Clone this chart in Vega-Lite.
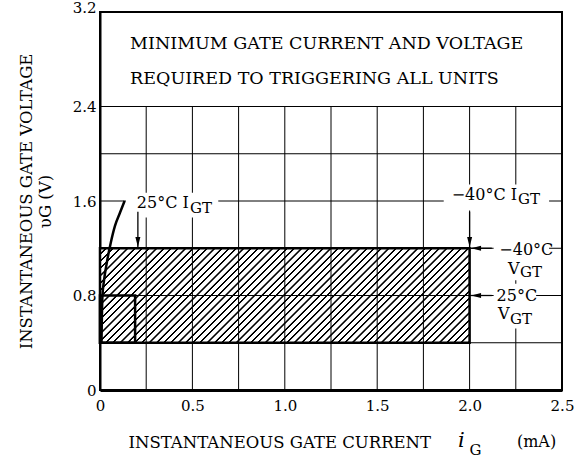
{
 "$schema": "https://vega.github.io/schema/vega-lite/v6.json",
 "width": 462,
 "height": 378,
 "autosize": {"type": "none"},
 "padding": {"left": 100, "top": 12, "right": 19, "bottom": 69},
 "background": "white",
 "config": {
  "font": "DejaVu Serif",
  "view": {"stroke": "black", "strokeWidth": 2},
  "axis": {"grid": false, "ticks": false, "domainColor": "black", "labelColor": "black", "titleColor": "black", "labelFont": "DejaVu Serif", "titleFont": "DejaVu Serif", "labelFontSize": 15, "titleFontSize": 16.5, "titleFontWeight": "normal", "labelFlush": false, "labelOverlap": false}
 },
 "datasets": {
  "regions": [
   {"temp": "−40°C", "i_min": 0, "i_max": 2.0, "v_min": 0.4, "v_max": 1.2},
   {"temp": "25°C", "i_min": 0, "i_max": 0.19, "v_min": 0.4, "v_max": 0.8}
  ],
  "vgrid": [{"i": 0.25}, {"i": 0.5}, {"i": 0.75}, {"i": 1.0}, {"i": 1.25}, {"i": 1.5}, {"i": 1.75}, {"i": 2.0}, {"i": 2.25}],
  "hgrid": [{"v": 0.4}, {"v": 0.8}, {"v": 1.2}, {"v": 1.6}, {"v": 2.0}, {"v": 2.4}],
  "masks": [
   {"i1": 0.14, "i2": 0.64, "v1": 1.46, "v2": 1.67},
   {"i1": 1.86, "i2": 2.43, "v1": 1.52, "v2": 1.74},
   {"i1": 2.13, "i2": 2.43, "v1": 0.93, "v2": 1.53},
   {"i1": 2.13, "i2": 2.36, "v1": 0.52, "v2": 0.9}
  ],
  "curve": [
   {"i": 0.008, "v": 0.4}, {"i": 0.01, "v": 0.6}, {"i": 0.013, "v": 0.79}, {"i": 0.022, "v": 0.93}, {"i": 0.036, "v": 1.07}, {"i": 0.058, "v": 1.245}, {"i": 0.081, "v": 1.39}, {"i": 0.108, "v": 1.5}, {"i": 0.133, "v": 1.6}
  ],
  "arrows": [
   {"dir": "down", "i1": 0.205, "v1": 1.51, "i2": 0.205, "v2": 1.21},
   {"dir": "down", "i1": 2.0, "v1": 1.51, "i2": 2.0, "v2": 1.21},
   {"dir": "left", "i1": 2.12, "v1": 1.2, "i2": 2.008, "v2": 1.2},
   {"dir": "left", "i1": 2.12, "v1": 0.8, "i2": 2.008, "v2": 0.8}
  ],
  "titles": [
   {"text": "MINIMUM GATE CURRENT AND VOLTAGE", "i": 0.163, "v": 2.93},
   {"text": "REQUIRED TO TRIGGERING ALL UNITS", "i": 0.163, "v": 2.63}
  ],
  "notes": [
   {"text": "25°C I", "i": 0.199, "v": 1.583},
   {"text": "−40°C I", "i": 1.903, "v": 1.651},
   {"text": "−40°C", "i": 2.161, "v": 1.185},
   {"text": "V", "i": 2.208, "v": 1.025},
   {"text": "25°C", "i": 2.146, "v": 0.8},
   {"text": "V", "i": 2.154, "v": 0.64},
   {"text": "(mA)", "i": 2.256, "v": -0.44}
  ],
  "subs": [
   {"text": "GT", "i": 0.487, "v": 1.54},
   {"text": "GT", "i": 2.262, "v": 1.62},
   {"text": "GT", "i": 2.273, "v": 0.995},
   {"text": "GT", "i": 2.219, "v": 0.605},
   {"text": "G", "i": 2.0, "v": -0.505}
  ],
  "italic": [{"text": "i", "i": 1.937, "v": -0.43}]
 },
 "layer": [
  {
   "data": {"name": "regions"},
   "transform": [{"filter": "datum.i_max > 1"}],
   "mark": {"type": "rect", "stroke": null, "fill": {"gradient": "linear", "x1": 0, "y1": 0, "x2": 1.1786, "y2": 0.3014, "stops": [
{"offset":0,"color":"#fff"},{"offset":0.01,"color":"#fff"},{"offset":0.01125,"color":"#000"},{"offset":0.0146875,"color":"#000"},
{"offset":0.015625,"color":"#fff"},{"offset":0.025625,"color":"#fff"},{"offset":0.026875,"color":"#000"},{"offset":0.0303125,"color":"#000"},
{"offset":0.03125,"color":"#fff"},{"offset":0.04125,"color":"#fff"},{"offset":0.0425,"color":"#000"},{"offset":0.0459375,"color":"#000"},
{"offset":0.046875,"color":"#fff"},{"offset":0.056875,"color":"#fff"},{"offset":0.058125,"color":"#000"},{"offset":0.0615625,"color":"#000"},
{"offset":0.0625,"color":"#fff"},{"offset":0.0725,"color":"#fff"},{"offset":0.07375,"color":"#000"},{"offset":0.0771875,"color":"#000"},
{"offset":0.078125,"color":"#fff"},{"offset":0.088125,"color":"#fff"},{"offset":0.089375,"color":"#000"},{"offset":0.0928125,"color":"#000"},
{"offset":0.09375,"color":"#fff"},{"offset":0.10375,"color":"#fff"},{"offset":0.105,"color":"#000"},{"offset":0.1084375,"color":"#000"},
{"offset":0.109375,"color":"#fff"},{"offset":0.119375,"color":"#fff"},{"offset":0.120625,"color":"#000"},{"offset":0.1240625,"color":"#000"},
{"offset":0.125,"color":"#fff"},{"offset":0.135,"color":"#fff"},{"offset":0.13625,"color":"#000"},{"offset":0.1396875,"color":"#000"},
{"offset":0.140625,"color":"#fff"},{"offset":0.150625,"color":"#fff"},{"offset":0.151875,"color":"#000"},{"offset":0.1553125,"color":"#000"},
{"offset":0.15625,"color":"#fff"},{"offset":0.16625,"color":"#fff"},{"offset":0.1675,"color":"#000"},{"offset":0.1709375,"color":"#000"},
{"offset":0.171875,"color":"#fff"},{"offset":0.181875,"color":"#fff"},{"offset":0.183125,"color":"#000"},{"offset":0.1865625,"color":"#000"},
{"offset":0.1875,"color":"#fff"},{"offset":0.1975,"color":"#fff"},{"offset":0.19875,"color":"#000"},{"offset":0.2021875,"color":"#000"},
{"offset":0.203125,"color":"#fff"},{"offset":0.213125,"color":"#fff"},{"offset":0.214375,"color":"#000"},{"offset":0.2178125,"color":"#000"},
{"offset":0.21875,"color":"#fff"},{"offset":0.22875,"color":"#fff"},{"offset":0.23,"color":"#000"},{"offset":0.2334375,"color":"#000"},
{"offset":0.234375,"color":"#fff"},{"offset":0.244375,"color":"#fff"},{"offset":0.245625,"color":"#000"},{"offset":0.2490625,"color":"#000"},
{"offset":0.25,"color":"#fff"},{"offset":0.26,"color":"#fff"},{"offset":0.26125,"color":"#000"},{"offset":0.2646875,"color":"#000"},
{"offset":0.265625,"color":"#fff"},{"offset":0.275625,"color":"#fff"},{"offset":0.276875,"color":"#000"},{"offset":0.2803125,"color":"#000"},
{"offset":0.28125,"color":"#fff"},{"offset":0.29125,"color":"#fff"},{"offset":0.2925,"color":"#000"},{"offset":0.2959375,"color":"#000"},
{"offset":0.296875,"color":"#fff"},{"offset":0.306875,"color":"#fff"},{"offset":0.308125,"color":"#000"},{"offset":0.3115625,"color":"#000"},
{"offset":0.3125,"color":"#fff"},{"offset":0.3225,"color":"#fff"},{"offset":0.32375,"color":"#000"},{"offset":0.3271875,"color":"#000"},
{"offset":0.328125,"color":"#fff"},{"offset":0.338125,"color":"#fff"},{"offset":0.339375,"color":"#000"},{"offset":0.3428125,"color":"#000"},
{"offset":0.34375,"color":"#fff"},{"offset":0.35375,"color":"#fff"},{"offset":0.355,"color":"#000"},{"offset":0.3584375,"color":"#000"},
{"offset":0.359375,"color":"#fff"},{"offset":0.369375,"color":"#fff"},{"offset":0.370625,"color":"#000"},{"offset":0.3740625,"color":"#000"},
{"offset":0.375,"color":"#fff"},{"offset":0.385,"color":"#fff"},{"offset":0.38625,"color":"#000"},{"offset":0.3896875,"color":"#000"},
{"offset":0.390625,"color":"#fff"},{"offset":0.400625,"color":"#fff"},{"offset":0.401875,"color":"#000"},{"offset":0.4053125,"color":"#000"},
{"offset":0.40625,"color":"#fff"},{"offset":0.41625,"color":"#fff"},{"offset":0.4175,"color":"#000"},{"offset":0.4209375,"color":"#000"},
{"offset":0.421875,"color":"#fff"},{"offset":0.431875,"color":"#fff"},{"offset":0.433125,"color":"#000"},{"offset":0.4365625,"color":"#000"},
{"offset":0.4375,"color":"#fff"},{"offset":0.4475,"color":"#fff"},{"offset":0.44875,"color":"#000"},{"offset":0.4521875,"color":"#000"},
{"offset":0.453125,"color":"#fff"},{"offset":0.463125,"color":"#fff"},{"offset":0.464375,"color":"#000"},{"offset":0.4678125,"color":"#000"},
{"offset":0.46875,"color":"#fff"},{"offset":0.47875,"color":"#fff"},{"offset":0.48,"color":"#000"},{"offset":0.4834375,"color":"#000"},
{"offset":0.484375,"color":"#fff"},{"offset":0.494375,"color":"#fff"},{"offset":0.495625,"color":"#000"},{"offset":0.4990625,"color":"#000"},
{"offset":0.5,"color":"#fff"},{"offset":0.51,"color":"#fff"},{"offset":0.51125,"color":"#000"},{"offset":0.5146875,"color":"#000"},
{"offset":0.515625,"color":"#fff"},{"offset":0.525625,"color":"#fff"},{"offset":0.526875,"color":"#000"},{"offset":0.5303125,"color":"#000"},
{"offset":0.53125,"color":"#fff"},{"offset":0.54125,"color":"#fff"},{"offset":0.5425,"color":"#000"},{"offset":0.5459375,"color":"#000"},
{"offset":0.546875,"color":"#fff"},{"offset":0.556875,"color":"#fff"},{"offset":0.558125,"color":"#000"},{"offset":0.5615625,"color":"#000"},
{"offset":0.5625,"color":"#fff"},{"offset":0.5725,"color":"#fff"},{"offset":0.57375,"color":"#000"},{"offset":0.5771875,"color":"#000"},
{"offset":0.578125,"color":"#fff"},{"offset":0.588125,"color":"#fff"},{"offset":0.589375,"color":"#000"},{"offset":0.5928125,"color":"#000"},
{"offset":0.59375,"color":"#fff"},{"offset":0.60375,"color":"#fff"},{"offset":0.605,"color":"#000"},{"offset":0.6084375,"color":"#000"},
{"offset":0.609375,"color":"#fff"},{"offset":0.619375,"color":"#fff"},{"offset":0.620625,"color":"#000"},{"offset":0.6240625,"color":"#000"},
{"offset":0.625,"color":"#fff"},{"offset":0.635,"color":"#fff"},{"offset":0.63625,"color":"#000"},{"offset":0.6396875,"color":"#000"},
{"offset":0.640625,"color":"#fff"},{"offset":0.650625,"color":"#fff"},{"offset":0.651875,"color":"#000"},{"offset":0.6553125,"color":"#000"},
{"offset":0.65625,"color":"#fff"},{"offset":0.66625,"color":"#fff"},{"offset":0.6675,"color":"#000"},{"offset":0.6709375,"color":"#000"},
{"offset":0.671875,"color":"#fff"},{"offset":0.681875,"color":"#fff"},{"offset":0.683125,"color":"#000"},{"offset":0.6865625,"color":"#000"},
{"offset":0.6875,"color":"#fff"},{"offset":0.6975,"color":"#fff"},{"offset":0.69875,"color":"#000"},{"offset":0.7021875,"color":"#000"},
{"offset":0.703125,"color":"#fff"},{"offset":0.713125,"color":"#fff"},{"offset":0.714375,"color":"#000"},{"offset":0.7178125,"color":"#000"},
{"offset":0.71875,"color":"#fff"},{"offset":0.72875,"color":"#fff"},{"offset":0.73,"color":"#000"},{"offset":0.7334375,"color":"#000"},
{"offset":0.734375,"color":"#fff"},{"offset":0.744375,"color":"#fff"},{"offset":0.745625,"color":"#000"},{"offset":0.7490625,"color":"#000"},
{"offset":0.75,"color":"#fff"},{"offset":0.76,"color":"#fff"},{"offset":0.76125,"color":"#000"},{"offset":0.7646875,"color":"#000"},
{"offset":0.765625,"color":"#fff"},{"offset":0.775625,"color":"#fff"},{"offset":0.776875,"color":"#000"},{"offset":0.7803125,"color":"#000"},
{"offset":0.78125,"color":"#fff"},{"offset":0.79125,"color":"#fff"},{"offset":0.7925,"color":"#000"},{"offset":0.7959375,"color":"#000"},
{"offset":0.796875,"color":"#fff"},{"offset":0.806875,"color":"#fff"},{"offset":0.808125,"color":"#000"},{"offset":0.8115625,"color":"#000"},
{"offset":0.8125,"color":"#fff"},{"offset":0.8225,"color":"#fff"},{"offset":0.82375,"color":"#000"},{"offset":0.8271875,"color":"#000"},
{"offset":0.828125,"color":"#fff"},{"offset":0.838125,"color":"#fff"},{"offset":0.839375,"color":"#000"},{"offset":0.8428125,"color":"#000"},
{"offset":0.84375,"color":"#fff"},{"offset":0.85375,"color":"#fff"},{"offset":0.855,"color":"#000"},{"offset":0.8584375,"color":"#000"},
{"offset":0.859375,"color":"#fff"},{"offset":0.869375,"color":"#fff"},{"offset":0.870625,"color":"#000"},{"offset":0.8740625,"color":"#000"},
{"offset":0.875,"color":"#fff"},{"offset":0.885,"color":"#fff"},{"offset":0.88625,"color":"#000"},{"offset":0.8896875,"color":"#000"},
{"offset":0.890625,"color":"#fff"},{"offset":0.900625,"color":"#fff"},{"offset":0.901875,"color":"#000"},{"offset":0.9053125,"color":"#000"},
{"offset":0.90625,"color":"#fff"},{"offset":0.91625,"color":"#fff"},{"offset":0.9175,"color":"#000"},{"offset":0.9209375,"color":"#000"},
{"offset":0.921875,"color":"#fff"},{"offset":0.931875,"color":"#fff"},{"offset":0.933125,"color":"#000"},{"offset":0.9365625,"color":"#000"},
{"offset":0.9375,"color":"#fff"},{"offset":0.9475,"color":"#fff"},{"offset":0.94875,"color":"#000"},{"offset":0.9521875,"color":"#000"},
{"offset":0.953125,"color":"#fff"},{"offset":0.963125,"color":"#fff"},{"offset":0.964375,"color":"#000"},{"offset":0.9678125,"color":"#000"},
{"offset":0.96875,"color":"#fff"},{"offset":0.97875,"color":"#fff"},{"offset":0.98,"color":"#000"},{"offset":0.9834375,"color":"#000"},
{"offset":0.984375,"color":"#fff"},{"offset":0.994375,"color":"#fff"},{"offset":0.995625,"color":"#000"},{"offset":0.9990625,"color":"#000"},
{"offset":1,"color":"#fff"}
   ]}},
   "encoding": {
    "x": {"field": "i_min", "type": "quantitative", "scale": {"domain": [0, 2.5], "nice": false, "zero": false},
     "axis": {"title": "INSTANTANEOUS GATE CURRENT", "values": [0, 0.5, 1, 1.5, 2, 2.5], "labelExpr": "datum.value == 0 ? '0' : format(datum.value, '.1f')", "labelPadding": 8, "domainWidth": 3, "titleAnchor": "start", "titleAlign": "left", "titleX": 28, "titleY": 52, "titleBaseline": "middle"}},
    "x2": {"field": "i_max"},
    "y": {"field": "v_min", "type": "quantitative", "scale": {"domain": [0, 3.2], "nice": false, "zero": false},
     "axis": {"title": ["INSTANTANEOUS GATE VOLTAGE", "υG  (V)"], "values": [0, 0.8, 1.6, 2.4, 3.2], "labelExpr": "datum.value == 0 ? '0' : format(datum.value, '.1f')", "labelPadding": 4, "domainWidth": 2, "titleX": -74, "titleY": 189, "titleAngle": -90, "titleAlign": "center", "titleBaseline": "middle", "titleLineHeight": 19, "labelBaseline": {"condition": {"test": "datum.value > 3", "value": "alphabetic"}, "value": "middle"}}},
    "y2": {"field": "v_max"}
   }
  },
  {
   "data": {"name": "vgrid"},
   "mark": {"type": "rule", "color": "black", "strokeWidth": 1},
   "encoding": {"x": {"field": "i", "type": "quantitative"}, "y": {"datum": 0}, "y2": {"datum": 2.4}}
  },
  {
   "data": {"name": "hgrid"},
   "mark": {"type": "rule", "color": "black", "strokeWidth": 1},
   "encoding": {"y": {"field": "v", "type": "quantitative"}, "x": {"datum": 0}, "x2": {"datum": 2.5}}
  },
  {
   "data": {"name": "masks"},
   "mark": {"type": "rect", "fill": "white", "stroke": null},
   "encoding": {"x": {"field": "i1", "type": "quantitative"}, "x2": {"field": "i2"}, "y": {"field": "v1", "type": "quantitative"}, "y2": {"field": "v2"}}
  },
  {
   "data": {"name": "regions"},
   "mark": {"type": "rect", "fill": "transparent", "stroke": "black", "strokeWidth": 2.5},
   "encoding": {"x": {"field": "i_min", "type": "quantitative"}, "x2": {"field": "i_max"}, "y": {"field": "v_min", "type": "quantitative"}, "y2": {"field": "v_max"}}
  },
  {
   "data": {"name": "curve"},
   "mark": {"type": "line", "color": "black", "strokeWidth": 2.5, "interpolate": "monotone"},
   "encoding": {"x": {"field": "i", "type": "quantitative"}, "y": {"field": "v", "type": "quantitative"}, "order": {"field": "v", "type": "quantitative"}}
  },
  {
   "data": {"name": "arrows"},
   "mark": {"type": "rule", "color": "black", "strokeWidth": 1.3},
   "encoding": {"x": {"field": "i1", "type": "quantitative"}, "x2": {"field": "i2"}, "y": {"field": "v1", "type": "quantitative"}, "y2": {"field": "v2"}}
  },
  {
   "data": {"name": "arrows"},
   "transform": [{"filter": "datum.dir == 'down'"}],
   "mark": {"type": "point", "filled": true, "color": "black", "opacity": 1, "size": 400, "shape": "M0,0L-0.25,-1L0.25,-1Z"},
   "encoding": {"x": {"field": "i2", "type": "quantitative"}, "y": {"field": "v2", "type": "quantitative"}}
  },
  {
   "data": {"name": "arrows"},
   "transform": [{"filter": "datum.dir == 'left'"}],
   "mark": {"type": "point", "filled": true, "color": "black", "opacity": 1, "size": 400, "shape": "M0,0L1,-0.25L1,0.25Z"},
   "encoding": {"x": {"field": "i2", "type": "quantitative"}, "y": {"field": "v2", "type": "quantitative"}}
  },
  {
   "data": {"name": "titles"},
   "mark": {"type": "text", "align": "left", "baseline": "middle", "fontSize": 17.5, "color": "black", "font": "DejaVu Serif"},
   "encoding": {"x": {"field": "i", "type": "quantitative"}, "y": {"field": "v", "type": "quantitative"}, "text": {"field": "text"}}
  },
  {
   "data": {"name": "notes"},
   "mark": {"type": "text", "align": "left", "baseline": "middle", "fontSize": 16, "color": "black", "font": "DejaVu Serif"},
   "encoding": {"x": {"field": "i", "type": "quantitative"}, "y": {"field": "v", "type": "quantitative"}, "text": {"field": "text"}}
  },
  {
   "data": {"name": "subs"},
   "mark": {"type": "text", "align": "left", "baseline": "middle", "fontSize": 15, "color": "black", "font": "DejaVu Serif"},
   "encoding": {"x": {"field": "i", "type": "quantitative"}, "y": {"field": "v", "type": "quantitative"}, "text": {"field": "text"}}
  },
  {
   "data": {"name": "italic"},
   "mark": {"type": "text", "align": "left", "baseline": "middle", "fontSize": 21, "fontStyle": "italic", "color": "black", "font": "DejaVu Serif"},
   "encoding": {"x": {"field": "i", "type": "quantitative"}, "y": {"field": "v", "type": "quantitative"}, "text": {"field": "text"}}
  }
 ]
}
